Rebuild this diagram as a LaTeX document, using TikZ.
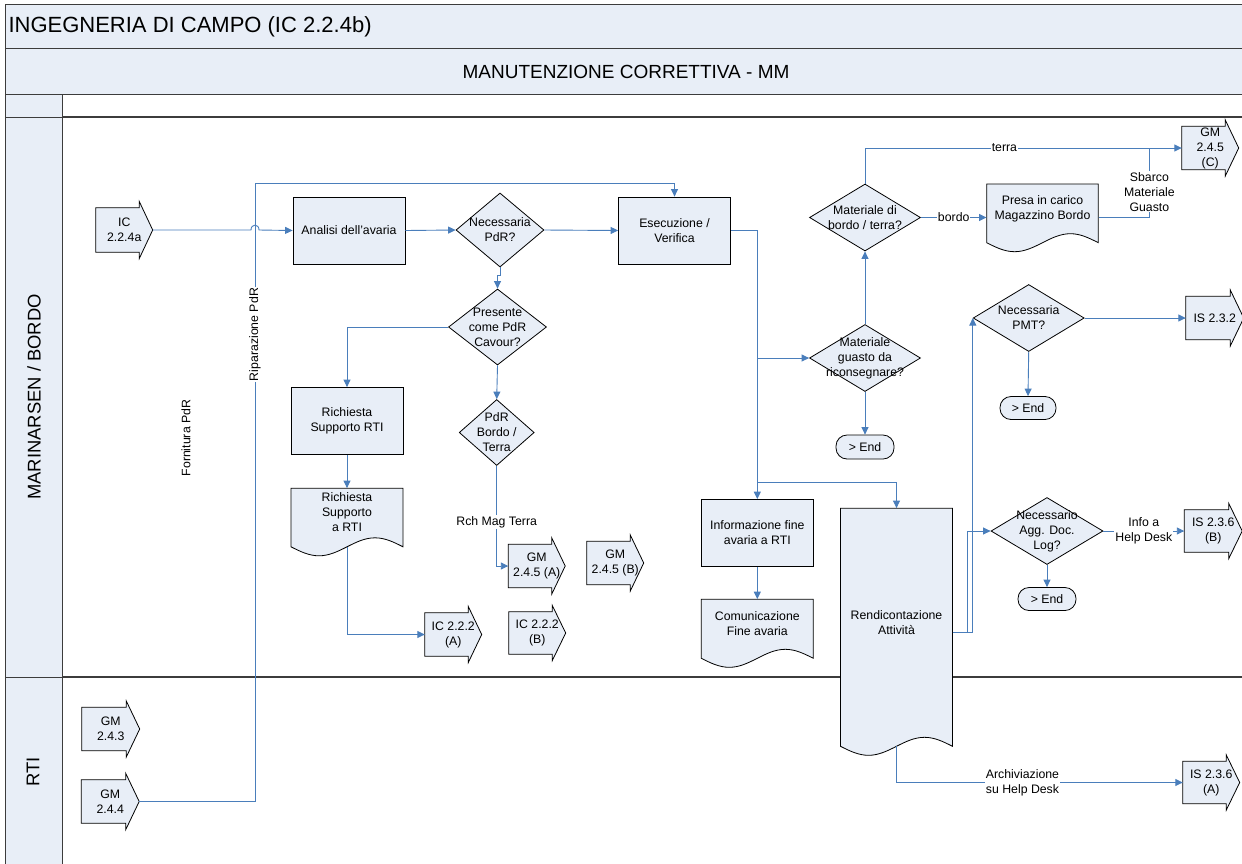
\documentclass[tikz,border=0pt]{standalone}
\usepackage{fontspec}
\setmainfont{Liberation Sans}
\usetikzlibrary{calc,arrows.meta,shapes.geometric}

\definecolor{lanefill}{RGB}{232,238,247}
\definecolor{flowblue}{RGB}{74,126,187}
\definecolor{framegray}{RGB}{60,60,60}

\newcommand{\boxfont}{\fontsize{12.3}{15}\selectfont}

\tikzset{
  laneline/.style={draw=framegray, line width=1pt},
  sepline/.style={draw=framegray, line width=1.6pt},
  shapeline/.style={draw=black, fill=lanefill, line width=0.8pt},
  process/.style={shapeline, minimum width=112pt, minimum height=67pt, align=center, font=\boxfont, inner sep=2pt},
  decision/.style={diamond, shapeline, inner sep=0pt},
  dtext/.style={align=center, font=\boxfont, inner sep=0pt},
  terminal/.style={shapeline, rounded corners=11pt, font=\boxfont, inner sep=0pt},
  offbody/.style={inner sep=0pt},
  offtext/.style={align=center, font=\boxfont, inner sep=0pt},
  doctext/.style={align=center, font=\boxfont, inner sep=0pt},
  flow/.style={draw=flowblue, line width=0.9pt},
  arr/.style={flow, -{Triangle[length=7.5pt,width=7pt]}},
  tag/.style={fill=white, font=\boxfont, inner sep=1pt, align=center}
}

% off-page reference: name, centre of body, width, height, text
\newcommand{\offpage}[5]{%
  \node[offbody, minimum width=#3pt, minimum height=#4pt] (#1) at (#2) {};
  \filldraw[shapeline] (#1.north west) -- (#1.north east) -- ++(0,-6.5)
    -- ($(#1.east)+(13.5,0)$) coordinate (#1-tip) -- ($(#1.south east)+(0,6.5)$)
    -- (#1.south east) -- (#1.south west) -- cycle;
  \node[offtext] (#1-t) at ($(#1)+(6.75,0)$) {#5};
}

% document: name, left x, top y, width, side height, text
\newcommand{\docshape}[6]{%
  \filldraw[shapeline] (#2,#3) -- ++(#4,0) -- ++(0,#5)
    sin ++({-#4/4},-9) cos ++({-#4/4},9) sin ++({-#4/4},9) cos ++({-#4/4},-9) -- cycle;
  \node[doctext, minimum width=#4pt, minimum height={#5pt-10pt}] (#1) at ({#2+#4/2},{#3+#5/2-5}) {#6};
  \coordinate (#1-b) at ({#2+#4/2},{#3+#5});
}

\begin{document}
\begin{tikzpicture}[x=1pt,y=-1pt]
\useasboundingbox (0,0) rectangle (1242,863);
\clip (0,0) rectangle (1242,863);

% pool, phase and lanes
\filldraw[laneline, fill=lanefill] (5,4) rectangle (1260,48);
\filldraw[laneline, fill=lanefill] (5,48) rectangle (1260,94);
\filldraw[laneline, fill=lanefill] (5,94) rectangle (62,880);
\draw[laneline] (62,94) rectangle (1260,880);
\draw[laneline] (5,117) -- (62,117);
\draw[laneline] (5,677) -- (62,677);
\draw[sepline] (62,117) -- (1260,117);
\draw[sepline] (62,677) -- (1260,677);

\node[anchor=west, font=\fontsize{22}{26}\selectfont] (pool) at (5,27) {INGEGNERIA DI CAMPO (IC 2.2.4b)};
\node[font=\fontsize{19}{23}\selectfont] (phase) at (626,72) {MANUTENZIONE CORRETTIVA - MM};
\node[rotate=90, font=\fontsize{18.4}{22}\selectfont] (lanebordo) at (34,397) {MARINARSEN / BORDO};
\node[rotate=90, font=\fontsize{18.4}{22}\selectfont] (laneRTI) at (33,772) {RTI};

% off-page references
\offpage{ic224a}{117.5,230}{43}{44}{IC\\2.2.4a}
\offpage{gm243}{104,729}{44}{43}{GM\\2.4.3}
\offpage{gm244}{103.5,801.5}{44}{43}{GM\\2.4.4}
\offpage{ic222a}{446.5,634.5}{43}{43}{IC 2.2.2\\(A)}
\offpage{ic222b}{530.5,633}{43}{42}{IC 2.2.2\\(B)}
\offpage{gm245a}{530,566}{43}{43}{GM\\2.4.5 (A)}
\offpage{gm245b}{608.5,563}{43}{43}{GM\\2.4.5 (B)}
\offpage{gm245c}{1203.5,148}{43}{43}{GM\\2.4.5\\(C)}
\offpage{is232}{1208,318}{44}{43}{IS 2.3.2}
\offpage{is236b}{1206.5,531}{44}{42}{IS 2.3.6\\(B)}
\offpage{is236a}{1204.5,782.5}{43}{42}{IS 2.3.6\\(A)}

% activities
\node[process] (analisi) at (349,230.5) {Analisi dell’avaria};
\node[process] (esec) at (674.5,230.5) {Esecuzione /\\Verifica};
\node[process] (rich) at (347,421) {Richiesta\\Supporto RTI};
\node[process] (info) at (757.3,533) {Informazione fine\\avaria a RTI};

% decisions
\node[decision, minimum width=88pt, minimum height=74pt, label={[dtext]center:Necessaria\\PdR?}] (nec) at (500,230) {};
\node[decision, minimum width=98pt, minimum height=76pt, label={[dtext]center:Presente\\come PdR\\Cavour?}] (pres) at (497.5,327) {};
\node[decision, minimum width=75pt, minimum height=66pt, label={[dtext]center:PdR\\Bordo /\\Terra}] (pdr) at (496.7,432.5) {};
\node[decision, minimum width=111pt, minimum height=67pt, label={[dtext]center:Materiale di\\bordo / terra?}] (mat) at (865,217.5) {};
\node[decision, minimum width=111pt, minimum height=67pt, label={[dtext]center:Materiale\\guasto da\\riconsegnare?}] (guasto) at (865,358) {};
\node[decision, minimum width=111pt, minimum height=67pt, label={[dtext]center:Necessaria\\PMT?}] (pmt) at (1028.7,318) {};
\node[decision, minimum width=112pt, minimum height=67pt, label={[dtext]center:Necessario\\Agg. Doc.\\Log?}] (agg) at (1047,531) {};

% documents
\docshape{richdoc}{291}{488.3}{112}{58.5}{Richiesta\\Supporto\\a RTI}
\docshape{comm}{701.3}{599.3}{112}{59}{Comunicazione\\Fine avaria}
\docshape{presa}{986.7}{184}{111.6}{58.7}{Presa in carico\\Magazzino Bordo}
\docshape{rend}{840.5}{508.3}{112}{238}{Rendicontazione\\Attività}

% ends
\node[terminal, minimum width=58pt, minimum height=24pt] (end1) at (865,447) {> End};
\node[terminal, minimum width=56pt, minimum height=23pt] (end2) at (1028,408) {> End};
\node[terminal, minimum width=58pt, minimum height=23pt] (end3) at (1047,599) {> End};

\node[rotate=90, font=\boxfont] (fornitura) at (186,438) {Fornitura PdR};

% connectors
\coordinate (hop) at (255,230);
\coordinate (ripbot) at (255,801.5);
\coordinate (riptop) at (255,183);
\coordinate (rendsplit) at (757.3,482.3);
\coordinate (rend-out) at (952.5,632);

\draw[arr] (gm244-tip) -- (ripbot) -- node[tag, rotate=90, pos=0.755] {Riparazione PdR} (riptop) -| (esec.north);
\draw[arr] (ic224a-tip) -- ($(hop)+(-4,0)$) .. controls ($(hop)+(-4,-6.5)$) and ($(hop)+(4,-6.5)$) .. ($(hop)+(4,0)$) -- (analisi.west);
\draw[arr] (analisi.east) -- (nec.west);
\draw[arr] (nec.east) -- (esec.west);
\draw[arr] (nec.south) -- ++(0,8) -| (pres.north);
\draw[arr] (pres.west) -| (rich.north);
\draw[arr] (pres.south) -- (pdr.north);
\draw[arr] (pdr.south) |- node[tag, pos=0.28] {Rch Mag Terra} (gm245a.west);
\draw[arr] (rich.south) -- (richdoc.north);
\draw[arr] (richdoc-b) |- (ic222a.west);

\draw[arr] (esec.east) -- (esec.east -| info) -- (info.north);
\draw[arr] (info |- guasto.west) -- (guasto.west);
\draw[arr] (rendsplit) -| (rend.north);
\draw[arr] (info.south) -- (comm.north);

\draw[arr] (guasto.north) -- (mat.south);
\draw[arr] (guasto.south) -- (end1.north);
\draw[arr] (mat.north) |- node[tag, pos=0.72] {terra} (gm245c.west);
\draw[arr] (mat.east) -- node[tag] {bordo} (mat.east -| presa.west);
\draw[flow] (mat.east -| presa.east) -| node[tag, pos=0.685] {Sbarco\\Materiale\\Guasto} ($(gm245c.west)+(-32.4,0)$);

\draw[arr] (rend-out) -| (pmt.west);
\draw[arr] (rend-out) -| ($(agg.west)+(-23,0)$) -- (agg.west);
\draw[arr] (pmt.east) -- (is232.west);
\draw[arr] (pmt.south) -- (end2.north);
\draw[arr] (agg.east) -- node[tag] {Info a\\Help Desk} (is236b.west);
\draw[arr] (agg.south) -- (end3.north);
\draw[arr] (rend-b) |- node[tag, pos=0.72] {Archiviazione\\su Help Desk} (is236a.west);
\end{tikzpicture}
\end{document}
